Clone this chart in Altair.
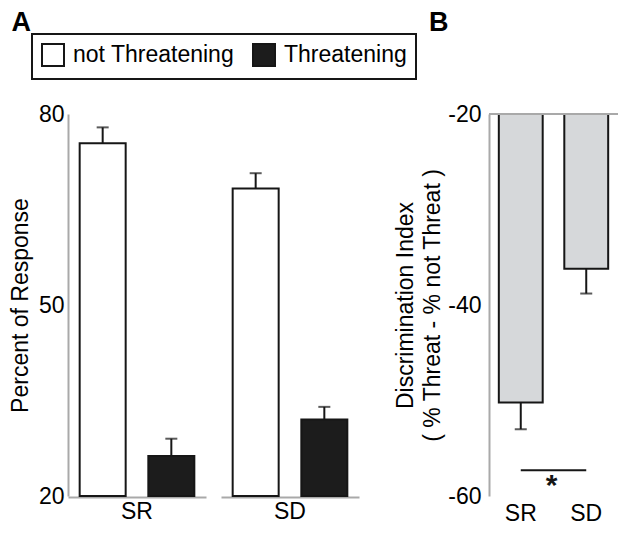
import altair as alt
import pandas as pd

# ---- Panel A data ----
groups = ["SR", "SR", "SD", "SD"]
conditions = ["not Threatening", "Threatening", "not Threatening", "Threatening"]
percent = [75.4, 26.3, 68.3, 32.0]
percent_err = [2.5, 2.7, 2.4, 2.0]

# ---- Panel B data ----
b_groups = ["SR", "SD"]
b_index = [-50.2, -36.2]
b_err = [2.8, 2.6]

sig_y = [-57.3]
star_y = [-59.0]

FONT = "Liberation Sans"
FS = 23
GRAY = "#a9a9a9"
INK = "#161616"

cond_order = ["not Threatening", "Threatening"]

dfA = pd.DataFrame({"group": groups, "condition": conditions,
                    "value": percent, "err": percent_err})
dfA["hi"] = dfA["value"] + dfA["err"]

WA, H = 138, 382

xA = alt.X("condition:N",
           scale=alt.Scale(domain=cond_order, paddingInner=0.33, paddingOuter=0.17),
           axis=alt.Axis(title=None, labels=False, ticks=False,
                         domainColor=GRAY, domainWidth=2))
yScaleA = alt.Scale(domain=[20, 80], zero=False, nice=False)
yA = alt.Y("value:Q", scale=yScaleA,
           axis=alt.Axis(values=[20, 50, 80], title="Percent of Response",
                         ticks=False, grid=False, domainColor=GRAY, domainWidth=2,
                         labelFontSize=FS, titleFontSize=FS, titleFontWeight="normal",
                         labelPadding=4, titlePadding=6, labelColor="black",
                         titleColor="black", labelFont=FONT, titleFont=FONT))

barsA = alt.Chart().mark_bar(stroke=INK, strokeWidth=2).encode(
    x=xA, y=yA, y2=alt.datum(20),
    color=alt.Color("condition:N",
                    scale=alt.Scale(domain=cond_order, range=["#ffffff", "#1c1c1c"]),
                    legend=alt.Legend(title=None, orient="none", legendX=-36, legendY=-80,
                                      direction="horizontal", symbolType="square",
                                      symbolSize=484, symbolStrokeColor=INK,
                                      symbolStrokeWidth=2, labelFontSize=FS,
                                      labelFont=FONT, labelColor="black",
                                      labelLimit=400,
                                      padding=9, strokeColor=INK,
                                      labelOffset=8, columnPadding=14,
                                      symbolOpacity=1)))
errA = alt.Chart().mark_rule(color=INK, strokeWidth=2).encode(
    x=xA, y=alt.Y("value:Q", scale=yScaleA), y2="hi:Q")
capA = alt.Chart().mark_tick(color=INK, thickness=2, size=12).encode(
    x=xA, y=alt.Y("hi:Q", scale=yScaleA))

chartA = alt.layer(barsA, errA, capA, data=dfA).properties(width=WA, height=H).facet(
    column=alt.Column("group:N", sort=["SR", "SD"], title=None,
                      header=alt.Header(labelOrient="bottom", labelFontSize=FS,
                                        labelFont=FONT, labelColor="black",
                                        labelPadding=4)),
    spacing=15,
).properties(title=alt.TitleParams("A", anchor="start", frame="bounds", fontSize=27,
                                   fontWeight="bold", font=FONT, dx=2, offset=66,
                                   color="black"))

# ---- Panel B ----
WB = 129
dfB = pd.DataFrame({"group": b_groups, "value": b_index, "err": b_err})
dfB["lo"] = dfB["value"] - dfB["err"]

xScaleB = alt.Scale(domain=b_groups, paddingInner=0.33, paddingOuter=0.15)
xB = alt.X("group:N", scale=xScaleB,
           axis=alt.Axis(title=None, labelAngle=0, domain=False, ticks=False,
                         labelFontSize=FS, labelFont=FONT, labelColor="black",
                         labelPadding=6))
yScaleB = alt.Scale(domain=[-60, -20], zero=False, nice=False)
yB = alt.Y("value:Q", scale=yScaleB,
           axis=alt.Axis(values=[-60, -40, -20], labelExpr="'' + datum.value",
                         title=["Discrimination Index", "( % Threat - % not Threat )"],
                         ticks=False, grid=False, domainColor=GRAY, domainWidth=2,
                         labelFontSize=FS, titleFontSize=FS, titleFontWeight="normal",
                         labelPadding=8, titlePadding=3, labelColor="black",
                         titleColor="black", labelFont=FONT, titleFont=FONT,
                         titleLineHeight=27))

barsB = alt.Chart(dfB).mark_bar(fill="#d6d8da", stroke=INK, strokeWidth=2).encode(
    x=xB, y=yB, y2=alt.datum(-20))
errB = alt.Chart(dfB).mark_rule(color=INK, strokeWidth=2).encode(
    x=xB, y=alt.Y("lo:Q", scale=yScaleB), y2="value:Q")
capB = alt.Chart(dfB).mark_tick(color=INK, thickness=2, size=12).encode(
    x=xB, y=alt.Y("lo:Q", scale=yScaleB))
topB = alt.Chart(pd.DataFrame({"y": [-20]})).mark_rule(color=GRAY, strokeWidth=2).encode(
    y=alt.Y("y:Q", scale=yScaleB), x=alt.value(0), x2=alt.value(WB))
sigB = alt.Chart(pd.DataFrame({"a": ["SR"], "b": ["SD"], "y": sig_y})).mark_rule(
    color=INK, strokeWidth=2).encode(
    x=alt.X("a:N", scale=xScaleB), x2="b:N", y=alt.Y("y:Q", scale=yScaleB))
starB = alt.Chart(pd.DataFrame({"y": star_y, "t": ["*"]})).mark_text(
    fontSize=30, fontWeight="bold", font=FONT, color=INK, baseline="middle",
    align="center").encode(
    x=alt.value(WB / 2 - 2), y=alt.Y("y:Q", scale=yScaleB), text="t:N")

chartB = alt.layer(barsB, errB, capB, topB, sigB, starB).properties(
    width=WB, height=H,
    title=alt.TitleParams("B", anchor="start", frame="group", fontSize=27,
                          fontWeight="bold", font=FONT, dx=-60, offset=66,
                          color="black"))

chart = alt.hconcat(chartA, chartB, spacing=35).properties(
    padding={"left": 1, "top": 1, "right": 0, "bottom": 0}).configure_view(
    stroke=None).configure_legend(strokeWidth=2)

chart.save("out.html", embed_options={"renderer": "svg", "actions": False})
